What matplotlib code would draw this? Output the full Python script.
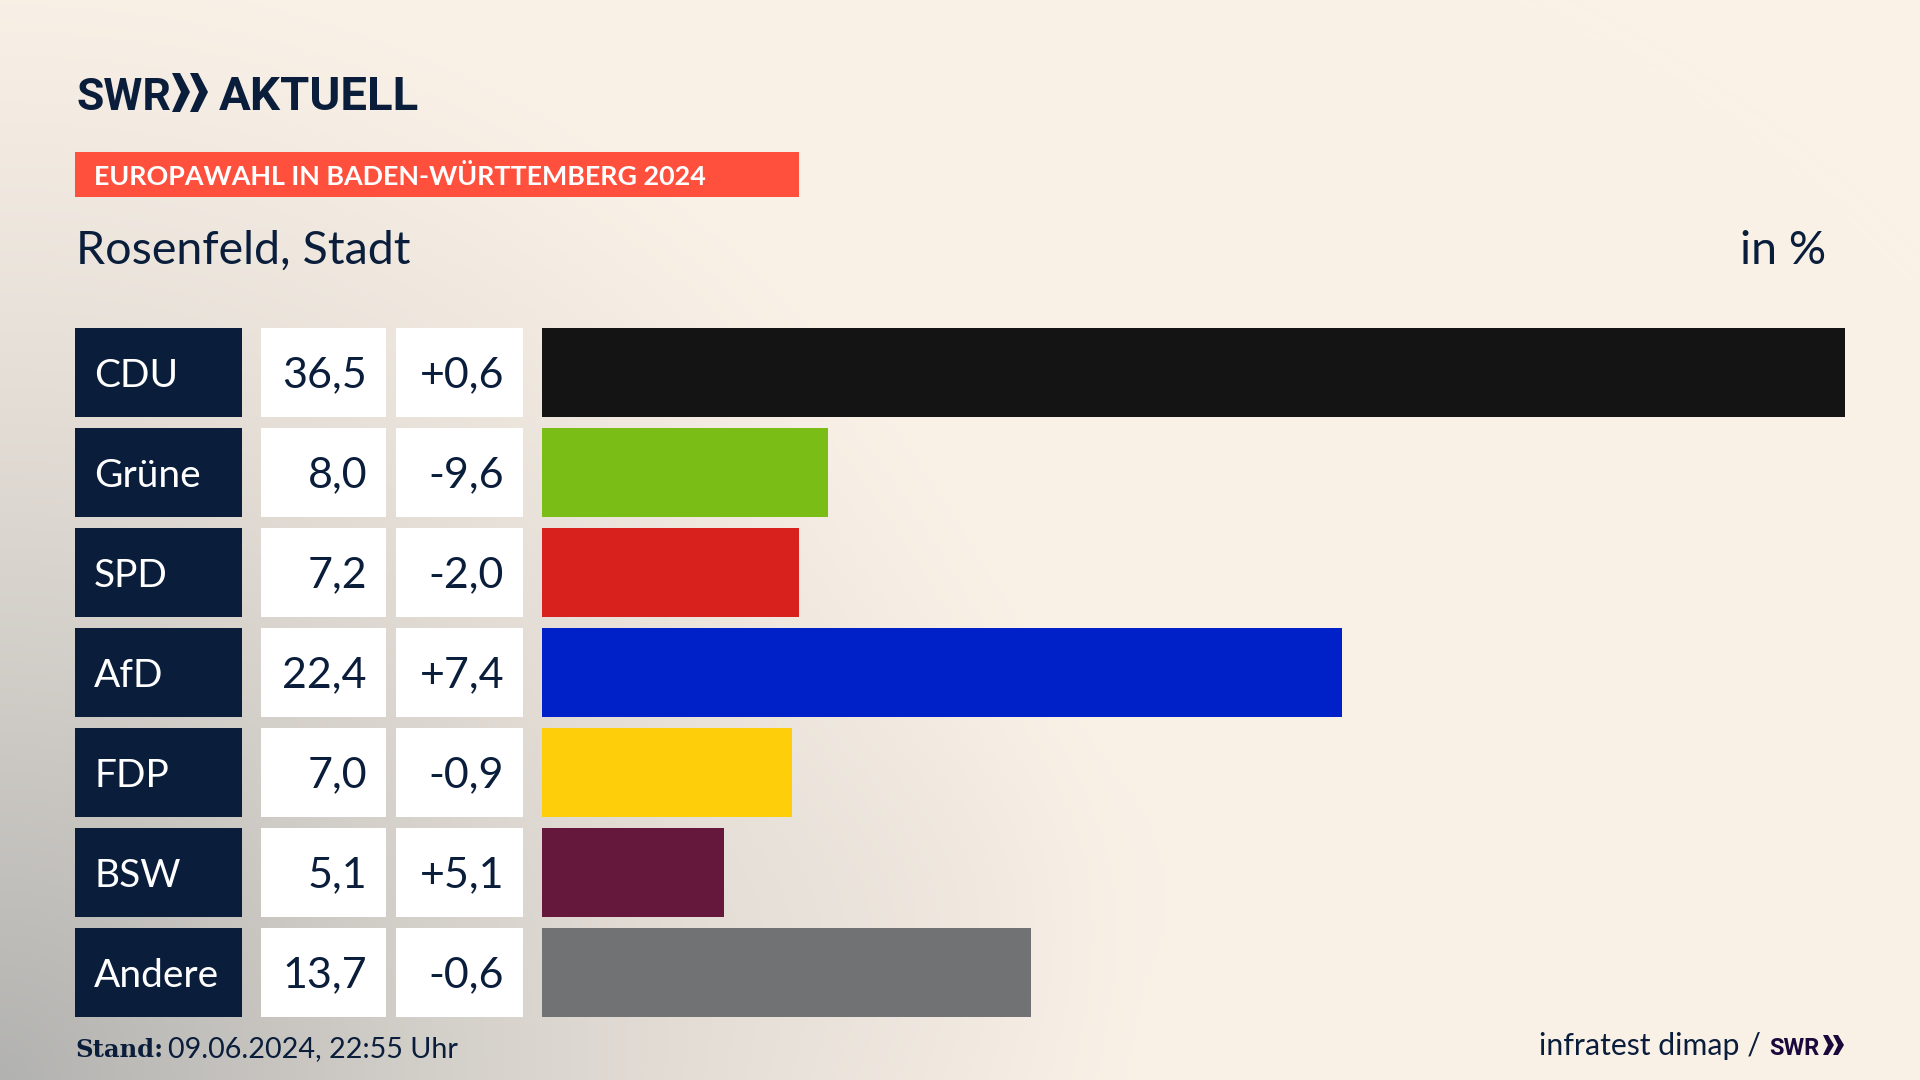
import numpy as np
import matplotlib
matplotlib.use("Agg")
from matplotlib import pyplot as plt
from matplotlib.patches import Rectangle, Polygon

parties = ["CDU", "Grüne", "SPD", "AfD", "FDP", "BSW", "Andere"]
shares = [36.5, 8.0, 7.2, 22.4, 7.0, 5.1, 13.7]
changes = ["+0,6", "-9,6", "-2,0", "+7,4", "-0,9", "+5,1", "-0,6"]
colors = ["#141414", "#7ABD17", "#D8201C", "#0020C8", "#FFCE0A", "#66183C", "#707274"]

NAVY = "#0A1E3C"
FONT = "Lato"
LOGO = "Roboto"

fig = plt.figure(figsize=(19.2, 10.8), dpi=100)

# page in pixel coordinates, background is cream with a grey corner
page = fig.add_axes([0, 0, 1, 1])
page.set_xlim(0, 1920)
page.set_ylim(1080, 0)
page.axis("off")

yy, xx = np.mgrid[0:1080:270j, 0:1920:480j]
dist = np.sqrt((xx / 1150) ** 2 + ((1080 - yy) / 1150) ** 2)
t = np.clip(1 - dist, 0, 1) ** 1.3
blob = np.exp(-(((xx - 900) / 220) ** 2 + ((yy - 900) / 180) ** 2)) * 0.06
t = np.clip(t + blob, 0, 1)
cream = np.array([250, 241, 231]) / 255
grey = np.array([178, 178, 176]) / 255
bg = cream[None, None, :] * (1 - t[..., None]) + grey[None, None, :] * t[..., None]
page.imshow(bg, extent=[0, 1920, 1080, 0], aspect="auto", zorder=0)

# logo
page.text(76, 110, "SWR", fontsize=32, fontweight="bold", family=LOGO, color=NAVY)
for x0 in (172, 190):
    page.add_patch(Polygon([(x0, 73), (x0 + 8, 73), (x0 + 18, 92), (x0 + 8, 112), (x0, 112), (x0 + 9, 92)], color=NAVY, lw=0))
page.text(219, 110, "AKTUELL", fontsize=34, fontweight="bold", family=LOGO, color=NAVY)

# red banner, headline
page.add_patch(Rectangle((75, 152), 724, 45, color="#FF4F3D", lw=0))
page.text(94, 185, "EUROPAWAHL IN BADEN-WÜRTTEMBERG 2024", fontsize=19.4, fontweight="bold", family=FONT, color="white")
page.text(76, 264, "Rosenfeld, Stadt", fontsize=33.6, family=FONT, color=NAVY)
page.text(1826, 264, "in %", fontsize=33.6, family=FONT, color=NAVY, ha="right")

# table cells left of the bars
for i, party in enumerate(parties):
    top = 328 + i * 100
    page.add_patch(Rectangle((75, top), 167, 89, color=NAVY, lw=0))
    page.add_patch(Rectangle((261, top), 125, 89, color="white", lw=0))
    page.add_patch(Rectangle((396, top), 127, 89, color="white", lw=0))
    page.text(94, top + 59, party, fontsize=28, family=FONT, color="white")
    page.text(367, top + 59, f"{shares[i]:.1f}".replace(".", ","), fontsize=31, family=FONT, color=NAVY, ha="right")
    page.text(504, top + 59, changes[i], fontsize=31, family=FONT, color=NAVY, ha="right")

# bars
ax = fig.add_axes([542 / 1920, 1 - 1017 / 1080, (1845 - 542) / 1920, 689 / 1080])
ax.patch.set_alpha(0)
ax.barh(range(len(parties)), shares, height=0.89, color=colors)
ax.set_xlim(0, 36.5)
ax.set_ylim(6.445, -0.445)
ax.axis("off")

# footer
page.text(75, 1057, "Stand:", fontsize=17.5, fontweight="bold", family="DejaVu Serif", color=NAVY)
page.text(168, 1057, "09.06.2024, 22:55 Uhr", fontsize=20.7, family=FONT, color=NAVY)
page.text(1539, 1055, "infratest dimap /", fontsize=21.8, family=FONT, color=NAVY)
page.text(1769, 1055, "SWR", fontsize=17, fontweight="bold", family=LOGO, color="#1A0A3C")
for x0 in (1823, 1833):
    page.add_patch(Polygon([(x0, 1035), (x0 + 5, 1035), (x0 + 11, 1045), (x0 + 5, 1055), (x0, 1055), (x0 + 5, 1045)], color="#1A0A3C", lw=0))

fig.savefig("out.png", dpi=100)
